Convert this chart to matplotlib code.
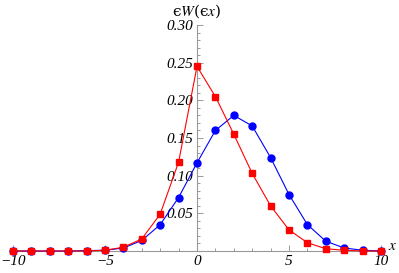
# %% imports
import numpy as np
import matplotlib
matplotlib.use("Agg")
from matplotlib import pyplot as plt
from matplotlib.ticker import MultipleLocator

# %% data
x_vals = [-10, -9, -8, -7, -6, -5, -4, -3, -2, -1, 0, 1, 2, 3, 4, 5, 6, 7, 8, 9, 10]
red_vals = [0.0, 0.0, 0.0, 0.0, 0.0, 0.001, 0.005, 0.016, 0.049, 0.118, 0.245,
            0.205, 0.155, 0.103, 0.060, 0.028, 0.011, 0.003, 0.001, 0.0, 0.0]
blue_vals = [0.0, 0.0, 0.0, 0.0, 0.0005, 0.001, 0.004, 0.014, 0.035, 0.071, 0.117,
             0.160, 0.180, 0.166, 0.124, 0.075, 0.035, 0.013, 0.004, 0.001, 0.0]

x_ticks = [-10, -5, 0, 5, 10]
y_ticks = [0.05, 0.10, 0.15, 0.20, 0.25, 0.30]
y_tick_labels = ["0.05", "0.10", "0.15", "0.20", "0.25", "0.30"]

# %% figure
fig = plt.figure(figsize=(3.99, 2.73), dpi=100)
ax = fig.add_axes([13/399, 1-251/273, (381-13)/399, (251-25)/273])

ax.plot(x_vals, blue_vals, color=(0, 0, 1), lw=0.8, marker="o", ms=5,
        clip_on=False, zorder=3)
ax.plot(x_vals, red_vals, color=(1, 0, 0), lw=0.8, marker="s", ms=4.3,
        clip_on=False, zorder=4)

ax.set_xlim(-10, 10)
ax.set_ylim(0, 0.30)

# Mathematica-like axes crossing at the origin
for s in ["top", "right"]:
    ax.spines[s].set_visible(False)
ax.spines["left"].set_position(("data", 0))
ax.spines["bottom"].set_position(("data", 0))
axis_col = (0.6, 0.6, 0.6)
ax.spines["left"].set_color(axis_col)
ax.spines["bottom"].set_color(axis_col)
ax.spines["left"].set_linewidth(0.8)
ax.spines["bottom"].set_linewidth(0.8)

ax.set_xticks(x_ticks)
ax.set_xticklabels(["\u221210", "\u22125", "0", "5", "10"])
ax.xaxis.set_minor_locator(MultipleLocator(1))
ax.set_yticks(y_ticks)
ax.set_yticklabels(y_tick_labels)
ax.yaxis.set_minor_locator(MultipleLocator(0.01))

ax.tick_params(which="both", direction="in", color=axis_col, width=0.7)
ax.tick_params(which="major", length=4.5, pad=3)
ax.tick_params(which="minor", length=2.5)
for lab in ax.get_xticklabels() + ax.get_yticklabels():
    lab.set_fontfamily("Liberation Serif")
    lab.set_fontstyle("italic")
    lab.set_fontsize(11)

fig.text(197/399, 1-11/273, "\u03f5$W$(\u03f5$x$)", ha="center", va="center",
         fontsize=11, family=["DejaVu Serif"], math_fontfamily="stix")
fig.text(393/399, 1-245/273, r"$x$", ha="center", va="center",
         fontsize=11, math_fontfamily="stix")

plt.savefig("out.png", dpi=100)
